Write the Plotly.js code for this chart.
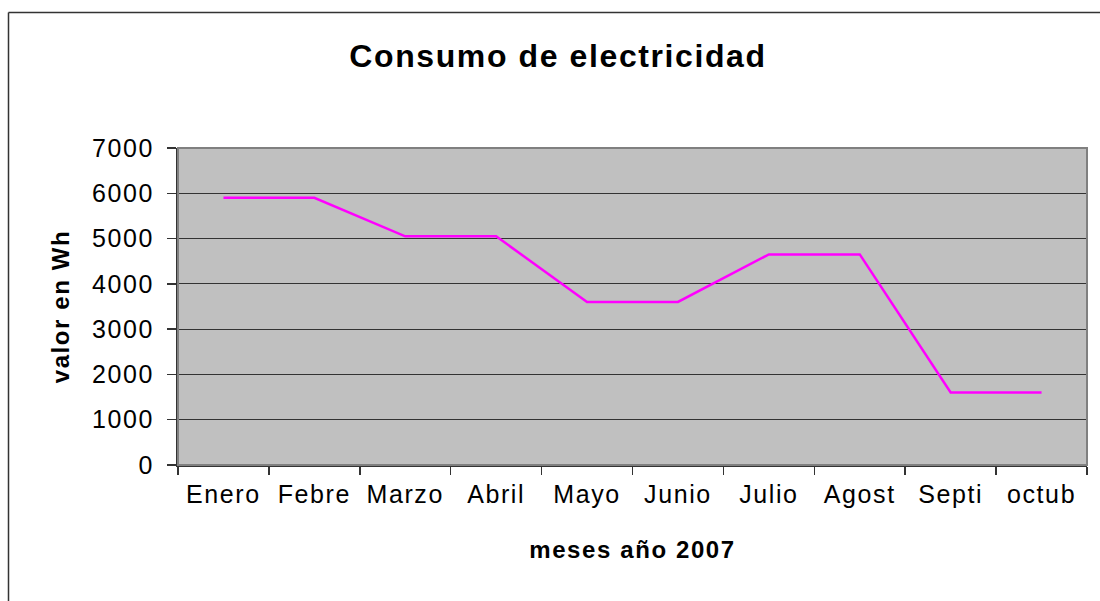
<!DOCTYPE html>
<html>
<head>
<meta charset="utf-8">
<script src="https://cdn.plot.ly/plotly-3.0.1.min.js"></script>
<style>
html,body{margin:0;padding:0;background:#fff;overflow:hidden;}
#chart{width:1100px;height:601px;}
#chart text{letter-spacing:1.6px;}
</style>
</head>
<body>
<div id="chart"></div>
<script>
const months = ["Enero","Febre","Marzo","Abril","Mayo","Junio","Julio","Agost","Septi","octub"];
const consumo = [5900, 5900, 5050, 5050, 3600, 3600, 4650, 4650, 1600, 1600];
const yTicks = [0,1000,2000,3000,4000,5000,6000,7000];

const L = 178, R = 13, T = 148, B = 136;
const W = 1100 - L - R, H = 601 - T - B;
const px = x => (x - L) / W;
const py = y => (601 - B - y) / H;

const trace = {
  x: months,
  y: consumo,
  type: 'scatter',
  mode: 'lines',
  line: {color: '#FF00FF', width: 2.5},
  hoverinfo: 'x+y'
};

const layout = {
  width: 1100, height: 601,
  margin: {l: L, r: R, t: T, b: B, pad: 0},
  paper_bgcolor: '#ffffff',
  plot_bgcolor: '#C0C0C0',
  showlegend: false,
  font: {family: 'Liberation Sans, Arial, sans-serif', color: '#000'},
  title: {
    text: '<b>Consumo de electricidad</b>',
    font: {size: 32, family: 'Liberation Sans, Arial, sans-serif', color: '#000'},
    x: 558/1100, xanchor: 'center',
    y: 1 - 56/601, yanchor: 'middle', xref: 'container', yref: 'container'
  },
  xaxis: {
    type: 'category',
    range: [-0.5, 9.5],
    tickson: 'boundaries',
    ticks: 'outside', ticklen: 8, tickwidth: 1.5, tickcolor: '#333',
    showline: true, linecolor: '#333', linewidth: 2,
    showgrid: false, zeroline: false,
    tickfont: {size: 25, family: 'Liberation Sans, Arial, sans-serif', color: '#000'},
    ticklabelstandoff: 6,
    title: {
      text: '<b>meses año 2007</b>',
      font: {size: 24, family: 'Liberation Sans, Arial, sans-serif', color: '#000'},
      standoff: 34
    }
  },
  yaxis: {
    range: [0, 7000],
    tickvals: yTicks,
    ticktext: yTicks.map(String),
    ticks: 'outside', ticklen: 9, tickwidth: 1.5, tickcolor: '#333',
    showline: true, linecolor: '#333', linewidth: 2,
    showgrid: true, gridcolor: '#333', gridwidth: 1,
    zeroline: false,
    tickfont: {size: 25, family: 'Liberation Sans, Arial, sans-serif', color: '#000'},
    ticklabelstandoff: 8,
    title: {
      text: '<b>valor en Wh</b>',
      font: {size: 24, family: 'Liberation Sans, Arial, sans-serif', color: '#000'},
      standoff: 22
    }
  },
  shapes: [
    {type: 'rect', xref: 'paper', yref: 'paper', x0: 0, x1: 1, y0: 0, y1: 1,
     line: {color: '#808080', width: 2}, fillcolor: 'rgba(0,0,0,0)', layer: 'above'},
    {type: 'line', xref: 'paper', yref: 'paper',
     x0: px(8.5), x1: px(8.5), y0: py(601), y1: py(12.5),
     line: {color: '#333', width: 1.5}, layer: 'above'},
    {type: 'line', xref: 'paper', yref: 'paper',
     x0: px(8.5), x1: px(1100), y0: py(12.5), y1: py(12.5),
     line: {color: '#333', width: 1.5}, layer: 'above'}
  ]
};

Plotly.newPlot('chart', [trace], layout, {displayModeBar: false, staticPlot: true});
</script>
</body>
</html>
